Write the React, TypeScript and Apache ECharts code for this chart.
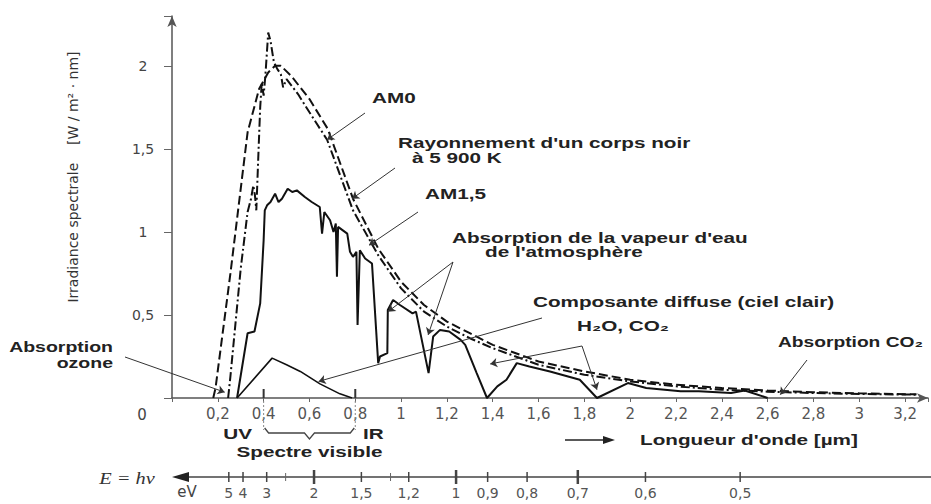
import React, { useEffect, useRef } from "react";
import * as echarts from "echarts";

// ---- Data (wavelength in µm, spectral irradiance in W/m²·nm) ----
const blackbodyLambda = [0.18, 0.19, 0.255, 0.33, 0.38, 0.42, 0.45, 0.475, 0.52, 0.6, 0.68, 0.79, 0.9, 1.0, 1.1, 1.2, 1.3, 1.4, 1.6, 1.8, 2.0, 2.2, 2.4, 2.6, 2.8, 3.0, 3.25];
const blackbodyValue = [0, 0.06, 0.75, 1.6, 1.86, 1.96, 2.0, 2.0, 1.94, 1.8, 1.62, 1.2, 0.9, 0.7, 0.56, 0.46, 0.39, 0.32, 0.22, 0.16, 0.11, 0.08, 0.06, 0.045, 0.035, 0.028, 0.022];

const am0Lambda = [0.245, 0.255, 0.3, 0.33, 0.345, 0.355, 0.362, 0.368, 0.378, 0.385, 0.392, 0.4, 0.408, 0.42, 0.43, 0.445, 0.46, 0.475, 0.485, 0.5, 0.55, 0.6, 0.677, 0.79, 0.9, 1.0, 1.1, 1.2, 1.3, 1.4, 1.6, 1.8, 2.0, 2.2, 2.4, 2.6, 2.8, 3.0, 3.25];
const am0Value = [0, 0.13, 0.78, 1.12, 1.2, 1.28, 1.22, 1.13, 1.5, 1.75, 1.9, 1.82, 1.95, 2.2, 2.15, 2.02, 1.98, 1.95, 1.87, 1.92, 1.83, 1.72, 1.555, 1.13, 0.86, 0.66, 0.52, 0.43, 0.36, 0.3, 0.2, 0.14, 0.1, 0.07, 0.05, 0.038, 0.03, 0.024, 0.02];

const am15Lambda = [0.284, 0.33, 0.36, 0.385, 0.4, 0.405, 0.415, 0.43, 0.45, 0.465, 0.48, 0.505, 0.525, 0.545, 0.58, 0.61, 0.645, 0.655, 0.665, 0.69, 0.705, 0.715, 0.72, 0.725, 0.765, 0.777, 0.79, 0.805, 0.81, 0.82, 0.843, 0.873, 0.9, 0.908, 0.94, 0.942, 0.965, 0.995, 1.05, 1.065, 1.12, 1.14, 1.17, 1.21, 1.26, 1.28, 1.33, 1.375, 1.42, 1.46, 1.505, 1.56, 1.65, 1.78, 1.855, 1.99, 2.07, 2.22, 2.3, 2.44, 2.5, 2.6];
const am15Value = [0, 0.39, 0.4, 0.57, 0.95, 1.13, 1.16, 1.18, 1.23, 1.18, 1.2, 1.26, 1.24, 1.25, 1.21, 1.18, 1.15, 0.99, 1.12, 1.07, 1.0, 1.05, 0.73, 1.03, 0.99, 0.88, 0.85, 0.88, 0.44, 0.89, 0.84, 0.81, 0.21, 0.25, 0.27, 0.53, 0.59, 0.56, 0.51, 0.52, 0.15, 0.37, 0.41, 0.4, 0.35, 0.32, 0.15, 0.0, 0.07, 0.11, 0.21, 0.19, 0.16, 0.11, 0.0, 0.09, 0.06, 0.04, 0.04, 0.03, 0.045, 0.0];

const diffuseLambda = [0.284, 0.437, 0.5, 0.56, 0.646, 0.733, 0.786];
const diffuseValue = [0, 0.24, 0.2, 0.16, 0.085, 0.025, 0];

// Y tick values shown with a label
const yLabelValues = [0.5, 1, 1.5, 2];

// Photon-energy scale (eV) shown below the wavelength axis
const eVLabels = [5, 4, 3, 2, 1.5, 1.2, 1, 0.9, 0.8, 0.7, 0.6, 0.5];
const eVMinorTicks = [2.5, 1.3];
const eVBoldTicks = [2, 1, 0.7];
const HC_EV_UM = 1.24; // λ[µm] = 1.24 / E[eV]

// Visible spectrum bounds (µm)
const visibleBounds = [0.4, 0.8];

// ---- Helpers ----
const zip = (a: number[], b: number[]) => a.map((x, i) => [x, b[i]]);
const fmt = (v: number) => String(Math.round(v * 100) / 100).replace(".", ",");

const TEXT_FONT = 'bold 15px "Liberation Sans", Arial, sans-serif';
const TEXT_COLOR = "#222";
const STRETCH = 1.38;

export default function App() {
  const ref = useRef<HTMLDivElement>(null);

  useEffect(() => {
    const chart = echarts.init(ref.current!, null, { renderer: "svg" });

    const annotationArrows: any[] = [
      [{ x: 365, y: 113 }, { coord: [0.677, 1.555] }],
      [{ x: 395, y: 168 }, { coord: [0.786, 1.2] }],
      [{ x: 418, y: 212 }, { coord: [0.86, 0.92] }],
      [{ x: 453, y: 262 }, { coord: [0.943, 0.52] }],
      [{ x: 453, y: 262 }, { coord: [1.118, 0.38] }],
      [{ x: 542, y: 318 }, { coord: [0.64, 0.1] }],
      [{ x: 582, y: 346 }, { coord: [1.389, 0.205] }],
      [{ x: 582, y: 346 }, { coord: [1.855, 0.05] }],
      [{ x: 125, y: 357 }, { coord: [0.23, 0.035] }],
      [{ x: 807, y: 360 }, { coord: [2.655, 0.02] }],
    ];

    const option: any = {
      animation: false,
      backgroundColor: "#fff",
      grid: { left: 172, right: 3, top: 16, bottom: 106 },
      xAxis: {
        type: "value",
        min: 0,
        max: 3.3,
        interval: 0.2,
        axisLine: {
          show: true,
          symbol: ["none", "arrow"],
          symbolSize: [7, 11],
          lineStyle: { color: "#555", width: 1.5 },
        },
        axisTick: { show: true, length: 4, lineStyle: { color: "#666" } },
        axisLabel: {
          margin: 8,
          fontFamily: "DejaVu Sans",
          fontSize: 15,
          color: "#555",
          formatter: (v: number) => (v === 0 || v > 3.25 ? "" : fmt(v)),
        },
        splitLine: { show: false },
      },
      yAxis: {
        type: "value",
        min: 0,
        max: 2.3,
        interval: 0.5,
        axisLine: {
          show: true,
          symbol: ["none", "arrow"],
          symbolSize: [7, 11],
          lineStyle: { color: "#555", width: 1.5 },
        },
        axisTick: { show: true, length: 8, lineStyle: { color: "#666" } },
        axisLabel: {
          margin: 29,
          align: "center",
          fontFamily: "DejaVu Sans",
          fontSize: 14,
          color: "#444",
          formatter: (v: number) =>
            yLabelValues.some((t) => Math.abs(t - v) < 1e-6) ? fmt(v) : "",
        },
        splitLine: { show: false },
      },
      series: [
        {
          name: "Rayonnement d'un corps noir à 5 900 K",
          type: "line",
          data: zip(blackbodyLambda, blackbodyValue),
          showSymbol: false,
          lineStyle: { color: "#111", width: 2, type: [9, 4] },
          silent: true,
        },
        {
          name: "AM0",
          type: "line",
          data: zip(am0Lambda, am0Value),
          showSymbol: false,
          lineStyle: { color: "#111", width: 2, type: [9, 3, 2, 3] },
          silent: true,
        },
        {
          name: "AM1,5",
          type: "line",
          data: zip(am15Lambda, am15Value),
          showSymbol: false,
          lineStyle: { color: "#111", width: 2 },
          silent: true,
          markLine: {
            silent: true,
            animation: false,
            symbol: ["none", "arrow"],
            symbolSize: 7,
            label: { show: false },
            lineStyle: { color: "#333", width: 1, type: "solid" },
            emphasis: { disabled: true },
            data: annotationArrows,
          },
        },
        {
          name: "Composante diffuse (ciel clair)",
          type: "line",
          data: zip(diffuseLambda, diffuseValue),
          showSymbol: false,
          lineStyle: { color: "#111", width: 1.6 },
          silent: true,
        },
      ],
    };

    chart.setOption(option);

    const px = (l: number) => (chart.convertToPixel({ gridIndex: 0 }, [l, 0]) as number[])[0];
    const y0 = (chart.convertToPixel({ gridIndex: 0 }, [0, 0]) as number[])[1];

    const txt = (
      text: string,
      x: number,
      y: number,
      align: string = "left",
      extra: any = {}
    ) => ({
      type: "text",
      x,
      y,
      scaleX: extra.scaleX ?? STRETCH,
      rotation: extra.rotation ?? 0,
      z: 100,
      silent: true,
      style: {
        text,
        font: extra.font ?? TEXT_FONT,
        fill: extra.fill ?? TEXT_COLOR,
        align,
        textAlign: align,
        verticalAlign: "middle",
        textVerticalAlign: "middle",
      },
    });

    const graphic: any[] = [];

    // Annotation texts
    graphic.push(txt("AM0", 372, 98));
    graphic.push(txt("Rayonnement d'un corps noir", 398, 143));
    graphic.push(txt("à 5 900 K", 412, 158));
    graphic.push(txt("AM1,5", 425, 194));
    graphic.push(txt("Absorption de la vapeur d'eau", 452, 238));
    graphic.push(txt("de l'atmosphère", 485, 252));
    graphic.push(txt("Composante diffuse (ciel clair)", 533, 302));
    graphic.push(txt("H₂O, CO₂", 577, 326));
    graphic.push(txt("Absorption CO₂", 778, 342, "left", { scaleX: 1.28 }));
    graphic.push(txt("Absorption", 113, 347, "right", { scaleX: 1.3 }));
    graphic.push(txt("ozone", 113, 363, "right", { scaleX: 1.3 }));

    // Y-axis title (rotated)
    graphic.push(
      txt("Irradiance spectrale    [W / m² · nm]", 73, 177, "center", {
        rotation: Math.PI / 2,
        scaleX: 1,
        font: '14px "DejaVu Sans", sans-serif',
        fill: "#333",
      })
    );

    // Origin label
    graphic.push(
      txt("0", 142, 415, "center", { scaleX: 1, font: '15px "DejaVu Sans", sans-serif', fill: "#444" })
    );

    // Visible spectrum marks
    const xv = visibleBounds.map(px);
    xv.forEach((x) => {
      graphic.push({
        type: "line",
        z: 90,
        silent: true,
        shape: { x1: x, y1: y0, x2: x, y2: y0 - 9 },
        style: { stroke: "#333", lineWidth: 2 },
      });
      graphic.push({
        type: "line",
        z: 90,
        silent: true,
        shape: { x1: x, y1: y0 + 3, x2: x, y2: y0 + 32 },
        style: { stroke: "#888", lineWidth: 1, lineDash: [2, 2] },
      });
    });
    const mid = (xv[0] + xv[1]) / 2;
    graphic.push({
      type: "polyline",
      z: 90,
      silent: true,
      shape: {
        points: [
          [xv[0] + 1, y0 + 30],
          [xv[0] + 5, y0 + 35],
          [mid - 5, y0 + 35],
          [mid, y0 + 41],
          [mid + 5, y0 + 35],
          [xv[1] - 5, y0 + 35],
          [xv[1] - 1, y0 + 30],
        ],
      },
      style: { stroke: "#444", lineWidth: 1.3, fill: "none" },
    });
    graphic.push(txt("UV", xv[0] - 26, 434, "center"));
    graphic.push(txt("IR", xv[1] + 18, 434, "center"));
    graphic.push(txt("Spectre visible", mid, 452, "center"));

    // Wavelength axis title with arrow
    graphic.push({
      type: "line",
      z: 90,
      silent: true,
      shape: { x1: 565, y1: 440, x2: 606, y2: 440 },
      style: { stroke: "#222", lineWidth: 1.5 },
    });
    graphic.push({
      type: "polygon",
      z: 90,
      silent: true,
      shape: { points: [[615, 440], [603, 436], [603, 444]] },
      style: { fill: "#222" },
    });
    graphic.push(txt("Longueur d'onde [µm]", 640, 440));

    // Photon-energy axis
    const eY = 477;
    const eLeft = px(0);
    graphic.push({
      type: "line",
      z: 90,
      silent: true,
      shape: { x1: eLeft + 4, y1: eY, x2: 931, y2: eY },
      style: { stroke: "#444", lineWidth: 1.5 },
    });
    graphic.push({
      type: "polygon",
      z: 90,
      silent: true,
      shape: { points: [[eLeft, eY], [eLeft + 17, eY - 5], [eLeft + 17, eY + 5]] },
      style: { fill: "#222" },
    });
    eVLabels.forEach((e) => {
      const x = px(HC_EV_UM / e);
      const bold = eVBoldTicks.indexOf(e) >= 0;
      graphic.push({
        type: "line",
        z: 90,
        silent: true,
        shape: { x1: x, y1: eY - (bold ? 7 : 5), x2: x, y2: eY + (bold ? 7 : 5) },
        style: { stroke: "#444", lineWidth: bold ? 2.5 : 1.5 },
      });
      graphic.push(
        txt(fmt(e), x, 493, "center", { scaleX: 1, font: '14px "DejaVu Sans", sans-serif', fill: "#555" })
      );
    });
    eVMinorTicks.forEach((e) => {
      const x = px(HC_EV_UM / e);
      graphic.push({
        type: "line",
        z: 90,
        silent: true,
        shape: { x1: x, y1: eY - 4, x2: x, y2: eY + 4 },
        style: { stroke: "#666", lineWidth: 1 },
      });
    });
    graphic.push(txt("eV", 187, 492, "center", { scaleX: 1, font: '15px "DejaVu Sans", sans-serif', fill: "#444" }));
    graphic.push(
      txt("E = hν", 127, 478, "center", {
        scaleX: 1.2,
        font: 'italic 17px "Liberation Serif", serif',
        fill: "#333",
      })
    );

    chart.setOption({ graphic });

    return () => chart.dispose();
  }, []);

  return (
    <div
      ref={ref}
      style={{ position: "fixed", left: 0, top: 0, width: 931, height: 504, background: "#fff" }}
    />
  );
}
